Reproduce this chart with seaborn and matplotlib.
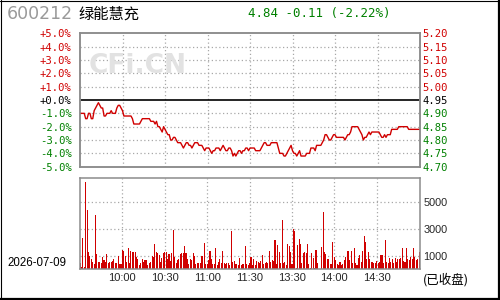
import numpy as np
import matplotlib
matplotlib.use("Agg")
import matplotlib.pyplot as plt
import seaborn as sns

# ---------------- data ----------------
code = "600212"
name = "绿能慧充"
quote = "4.84 -0.11 (-2.22%)"
date_label = "2026-07-09"
status_label = "(已收盘)"
prev_close = 4.95

price = [
    4.90, 4.90, 4.90, 4.90, 4.88, 4.88, 4.90, 4.90, 4.88, 4.88,
    4.91, 4.92, 4.93, 4.94, 4.93, 4.92, 4.92, 4.89, 4.89, 4.90,
    4.90, 4.90, 4.91, 4.90, 4.90, 4.90, 4.92, 4.93, 4.93, 4.92,
    4.91, 4.89, 4.89, 4.89, 4.89, 4.89, 4.89, 4.88, 4.86, 4.86,
    4.86, 4.86, 4.86, 4.87, 4.88, 4.88, 4.88, 4.88, 4.88, 4.88,
    4.87, 4.87, 4.87, 4.86, 4.87, 4.85, 4.85, 4.84, 4.83, 4.85,
    4.84, 4.83, 4.82, 4.82, 4.80, 4.80, 4.81, 4.81, 4.80, 4.79,
    4.79, 4.79, 4.78, 4.77, 4.78, 4.79, 4.79, 4.78, 4.78, 4.77,
    4.78, 4.79, 4.79, 4.79, 4.78, 4.78, 4.78, 4.77, 4.76, 4.77,
    4.77, 4.77, 4.76, 4.75, 4.76, 4.76, 4.77, 4.77, 4.77, 4.76,
    4.77, 4.78, 4.77, 4.76, 4.76, 4.77, 4.77, 4.76, 4.74, 4.75,
    4.74, 4.75, 4.76, 4.76, 4.75, 4.76, 4.76, 4.77, 4.77, 4.76,
    4.77,
    4.77, 4.77, 4.77, 4.76, 4.76, 4.76, 4.76, 4.77, 4.78, 4.79,
    4.79, 4.78, 4.78, 4.78, 4.79, 4.79, 4.79, 4.79, 4.79, 4.77,
    4.75, 4.75, 4.75, 4.74, 4.74, 4.75, 4.76, 4.77, 4.78, 4.76,
    4.75, 4.75, 4.74, 4.75, 4.76, 4.74, 4.74, 4.74, 4.74, 4.75,
    4.75, 4.75, 4.77, 4.77, 4.77, 4.76, 4.78, 4.78, 4.78, 4.78,
    4.79, 4.80, 4.82, 4.82, 4.81, 4.80, 4.80, 4.81, 4.82, 4.82,
    4.81, 4.81, 4.81, 4.81, 4.81, 4.81, 4.80, 4.81, 4.82, 4.82,
    4.83, 4.85, 4.85, 4.85, 4.85, 4.85, 4.84, 4.83, 4.82, 4.80,
    4.81, 4.81, 4.82, 4.83, 4.82, 4.83, 4.83, 4.83, 4.83, 4.83,
    4.83, 4.82, 4.81, 4.81, 4.82, 4.81, 4.82, 4.82, 4.82, 4.84,
    4.84, 4.84, 4.84, 4.84, 4.85, 4.85, 4.85, 4.85, 4.85, 4.85,
    4.85, 4.84, 4.84, 4.84, 4.84, 4.84, 4.84, 4.84, 4.84, 4.84,
]

volume_am = [
    450, 150, 2350, 150, 6500, 4430, 1300, 1000, 750, 575,
    400, 4060, 1150, 550, 550, 500, 900, 700, 550, 1150,
    500, 550, 550, 600, 750, 450, 450, 1000, 400, 400,
    1450, 1350, 1000, 550, 1550, 450, 1400, 1300, 1300, 1300,
    950, 750, 350, 450, 800, 550, 700, 700, 350, 500,
    550, 1000, 900, 1900, 1300, 1200, 1050, 550, 850, 1250,
    1300, 1300, 750, 1150, 600, 1200, 2950, 950, 500, 700,
    800, 1150, 1200, 1250, 1750, 1250, 800, 400, 750, 700,
    1200, 1000, 400, 500, 500, 500, 1000, 1000, 1950, 400,
    400, 700, 1400, 800, 400, 400, 1600, 350, 550, 800,
    450, 1400, 450, 400, 450, 450, 350, 2840, 550, 650,
    400, 400, 300, 850, 350, 400, 400, 1750, 400, 300,
    450,
]
volume_pm = [
    900, 325, 750, 300, 600, 550, 500, 600, 1050, 400,
    450, 550, 500, 1350, 550, 700, 600, 2200, 400, 1800,
    1300, 450, 3700, 450, 550, 300, 1900, 1700, 1300, 400,
    3000, 2850, 100, 1800, 2250, 1900, 450, 1200, 1300, 1200,
    1850, 400, 100, 1250, 850, 100, 1450, 450, 0, 0,
    1650, 4250, 1300, 1150, 750, 750, 400, 400, 2000, 900,
    700, 400, 300, 550, 350, 400, 700, 900, 1350, 1350,
    700, 1350, 450, 1600, 450, 350, 850, 1100, 550, 1350,
    2450, 2000, 750, 1300, 800, 550, 550, 500, 500, 650,
    500, 550, 1050, 1050, 500, 2200, 550, 500, 850, 550,
    800, 500, 850, 550, 800, 800, 850, 1600, 650, 550,
    1600, 750, 700, 900, 750, 1600, 900, 700, 800, 1300,
]

pct_ticks = [5, 4, 3, 2, 1, 0, -1, -2, -3, -4, -5]
pct_labels = ["+5.0%", "+4.0%", "+3.0%", "+2.0%", "+1.0%", "+0.0%",
              "-1.0%", "-2.0%", "-3.0%", "-4.0%", "-5.0%"]
price_ticks = [5.20, 5.15, 5.10, 5.05, 5.00, 4.95, 4.90, 4.85, 4.80, 4.75, 4.70]
price_labels = ["5.20", "5.15", "5.10", "5.05", "5.00", "4.95",
                "4.90", "4.85", "4.80", "4.75", "4.70"]
time_ticks = [30, 60, 90, 120, 150, 180, 210]
time_labels = ["10:00", "10:30", "11:00", "11:30", "13:30", "14:00", "14:30"]
vol_ticks = [1000, 3000, 5000]
vol_labels = ["1000", "3000", "5000"]

# ---------------- style ----------------
sns.set_style("white")
plt.rcParams["font.family"] = ["DejaVu Sans", "Noto Sans CJK SC"]

RED = "#D00000"
GREEN = "#008000"
GRID = "#A8A8A8"
FRAME = "#8C8C8C"
MONO = ["DejaVu Sans Mono"]
SANS = ["Liberation Sans", "DejaVu Sans"]
CJK = ["Noto Sans CJK SC", "DejaVu Sans"]

W, H = 500, 300
fig = plt.figure(figsize=(5, 3), dpi=100)
fig.patch.set_facecolor("white")


def fx(px):
    return px / W


def fy(py):
    return 1 - py / H


L, R = 80, 420
ax_pct = fig.add_axes([fx(L), fy(166.7), fx(R - L), (166.7 - 33.3) / H])
ax_pr = ax_pct.twinx()
ax_vol = fig.add_axes([fx(L), fy(269.3), fx(R - L), (269.3 - 178) / H])

# price line
minutes = np.arange(len(price))
sns.lineplot(x=minutes, y=price, ax=ax_pr, color=RED, linewidth=1.0)
ax_pr.set_ylim(4.70, 5.20)
ax_pct.set_ylim(-5, 5)
for a in (ax_pct, ax_pr, ax_vol):
    a.set_xlim(0, 240)

# volume bars
volume = volume_am + volume_pm
vol_minutes = np.arange(len(volume))
sns.barplot(x=vol_minutes, y=volume, ax=ax_vol, native_scale=True,
            color=RED, saturation=1, width=0.75, errorbar=None, linewidth=0)
for p in ax_vol.patches:
    p.set_antialiased(False)
ax_vol.set_xlim(0, 240.6)
ax_vol.set_ylim(0, 6800)

# grids
for t in pct_ticks:
    if t == 0:
        ax_pct.axhline(0, color="black", lw=1.2, zorder=1)
    elif abs(t) != 5:
        ax_pct.axhline(t, color=GRID, lw=0.9, ls=(0, (1, 2)), zorder=0)
for t in time_ticks:
    ax_pct.axvline(t, color=GRID, lw=0.9, ls=(0, (1, 2)), zorder=0)
    ax_vol.axvline(t, color=GRID, lw=0.9, ls=(0, (1, 2)), zorder=0)
for t in vol_ticks:
    ax_vol.axhline(t, color=GRID, lw=0.9, ls=(0, (1, 2)), zorder=0)

# ticks and labels
ax_pct.set_yticks(pct_ticks)
ax_pct.set_yticklabels(pct_labels, fontfamily=MONO, fontsize=7.6)
for lab, t in zip(ax_pct.get_yticklabels(), pct_ticks):
    lab.set_color(RED if t > 0 else ("black" if t == 0 else GREEN))
ax_pct.tick_params(axis="y", length=0, pad=6)
ax_pct.set_xticks([])

ax_pr.set_yticks(price_ticks)
ax_pr.set_yticklabels(price_labels, fontfamily=MONO, fontsize=7.6)
for lab, t in zip(ax_pr.get_yticklabels(), price_ticks):
    lab.set_color(RED if t > prev_close + 1e-9 else ("black" if abs(t - prev_close) < 1e-9 else GREEN))
ax_pr.tick_params(axis="y", length=0, pad=1.5)
ax_pr.set_ylabel("")

ax_vol.yaxis.tick_right()
ax_vol.set_yticks(vol_ticks)
ax_vol.set_yticklabels(vol_labels, fontfamily=SANS, fontsize=7.8)
ax_vol.tick_params(axis="y", length=0, pad=2.5)
ax_vol.set_xticks(time_ticks)
ax_vol.set_xticklabels(time_labels, fontfamily=SANS, fontsize=8)
ax_vol.tick_params(axis="x", length=0, pad=3)
ax_vol.set_xlabel("")
ax_vol.set_ylabel("")

for a in (ax_pct, ax_pr, ax_vol):
    a.grid(False)
    for s in a.spines.values():
        s.set_color(FRAME)
        s.set_linewidth(1.1)
ax_pr.patch.set_alpha(0)

# header texts
fig.text(fx(7), fy(14), code, fontsize=12.5, color="#9A9A9A", va="center", ha="left")
fig.text(fx(78), fy(14), name, fontsize=11, color="black", va="center", ha="left",
         fontfamily=CJK)
fig.text(fx(248), fy(14), quote, fontsize=9, color=GREEN, va="center", ha="left",
         fontfamily=MONO)
fig.text(fx(138), fy(66), "CFi.CN", fontsize=19, fontweight="bold", color="#E2E2E2",
         va="center", ha="center", zorder=0)
fig.text(fx(7), fy(262.5), date_label, fontsize=8.3, color="black", va="center",
         ha="left", fontfamily=SANS)
fig.text(fx(423), fy(280), status_label, fontsize=9, color="black", va="center",
         ha="left", fontfamily=CJK)

# outer frame
fig.add_artist(plt.Line2D([0.5 / W, 0.5 / W], [0, 1], color="black", lw=0.8,
                          transform=fig.transFigure))
fig.add_artist(plt.Line2D([0, 1], [1 - 0.5 / H, 1 - 0.5 / H], color="black", lw=0.8,
                          transform=fig.transFigure))
fig.add_artist(plt.Line2D([1 - 1.0 / W, 1 - 1.0 / W], [0, 1], color="black", lw=1.6,
                          transform=fig.transFigure))
fig.add_artist(plt.Line2D([0, 1], [1.0 / H, 1.0 / H], color="black", lw=1.6,
                          transform=fig.transFigure))

fig.savefig("out.png", dpi=100)
